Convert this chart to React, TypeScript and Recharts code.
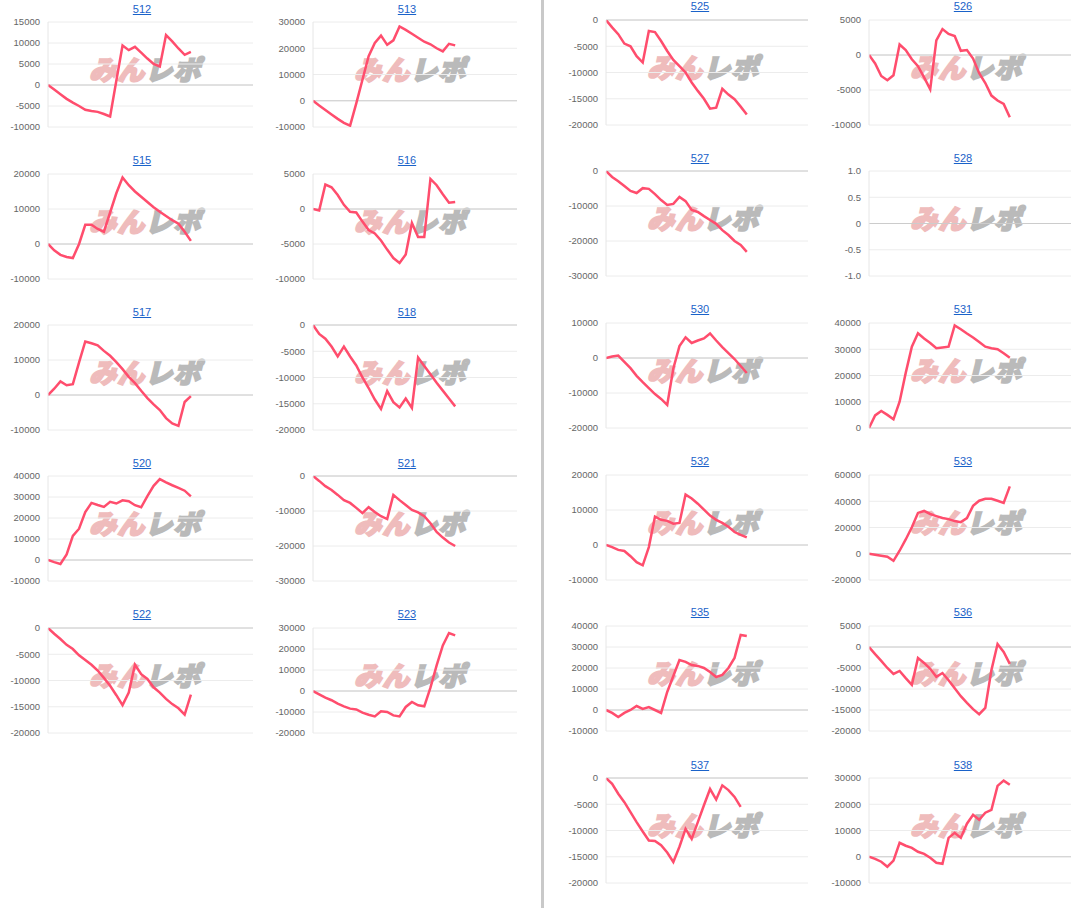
import { LineChart, Line, XAxis, YAxis, CartesianGrid, ReferenceLine } from 'recharts';

// daily balance per machine number (24 days shown on a 34-slot axis)
const X_MAX = 33;

const s512 = [0, -1100, -2200, -3300, -4200, -5000, -5900, -6200, -6400, -6900, -7500, 1000, 9400, 8300, 9100, 7700, 6300, 5000, 4400, 11900, 10400, 8700, 7200, 7900];
const s513 = [0, -1800, -3500, -5200, -6900, -8400, -9500, -1000, 8000, 17000, 22000, 24800, 21300, 23000, 28300, 27000, 25500, 24000, 22500, 21500, 20000, 18800, 21700, 21100];
const s515 = [0, -1800, -3100, -3700, -4000, 0, 5500, 5500, 4300, 3500, 9000, 14500, 19000, 16800, 15000, 13500, 12000, 10500, 9200, 8000, 6800, 5800, 3500, 900];
const s516 = [0, -200, 3500, 3100, 2000, 600, -400, -500, -1800, -3000, -3500, -4500, -5800, -7000, -7700, -6500, -2000, -4000, -4000, 4300, 3400, 2100, 900, 1000];
const s517 = [0, 1800, 3900, 2800, 3100, 9300, 15300, 14800, 14200, 12600, 11200, 9400, 7400, 5200, 3400, 1200, -900, -2700, -4300, -6600, -8100, -8800, -2000, -300];
const s518 = [0, -1700, -2600, -4100, -6000, -4100, -6000, -7700, -10000, -12000, -14200, -16000, -12600, -14700, -15700, -14000, -15800, -6200, -7800, -9400, -11000, -12500, -14000, -15500];
const s520 = [0, -1000, -1900, 2700, 11500, 14900, 22800, 27200, 26200, 25300, 27700, 26900, 28400, 28000, 26100, 25100, 30400, 35300, 38500, 37000, 35600, 34300, 33000, 30300];
const s521 = [0, -1400, -2900, -4000, -5400, -6900, -7700, -9100, -10600, -8900, -10300, -11500, -12300, -5400, -6900, -8300, -9700, -10400, -11500, -13500, -16000, -17600, -19000, -20000];
const s522 = [0, -1100, -2100, -3200, -4000, -5200, -6100, -7000, -8100, -9500, -11000, -12800, -14700, -12300, -7000, -8800, -9700, -11300, -12300, -13500, -14500, -15300, -16500, -12700];
const s523 = [0, -1600, -3200, -4400, -6000, -7300, -8400, -8800, -10300, -11300, -12100, -9700, -10000, -11600, -12100, -7600, -5200, -6800, -7300, 1600, 12200, 21700, 27600, 26500];
const s525 = [0, -1400, -2700, -4500, -5000, -6900, -8100, -2100, -2300, -4000, -5900, -7600, -8800, -10000, -11900, -13500, -15000, -16900, -16700, -13100, -14200, -15100, -16500, -18000];
const s526 = [0, -1200, -3000, -3600, -2900, 1500, 700, -600, -1600, -3200, -4900, 2100, 3700, 3000, 2700, 600, 700, -500, -2600, -4000, -5800, -6500, -7000, -8900];
const s527 = [0, -1700, -2900, -4300, -5700, -6300, -4900, -5100, -6600, -8300, -9700, -9400, -7400, -8600, -11100, -11700, -12900, -14000, -15100, -16900, -18300, -20000, -21100, -23100];
const s528: (number | null)[] = [null];
const s530 = [0, 400, 700, -1100, -2900, -5100, -6900, -8600, -10300, -11700, -13400, -3000, 3400, 5900, 4300, 5000, 5600, 7000, 5000, 3100, 1400, -300, -2300, -4300];
const s531 = [0, 4800, 6500, 5000, 3300, 10000, 21000, 31000, 36100, 34100, 32400, 30400, 30700, 31000, 39100, 37600, 36000, 34500, 32800, 31000, 30400, 30000, 28500, 26800];
const s532 = [0, -600, -1400, -1700, -3200, -4900, -5800, -600, 8100, 7200, 6900, 6100, 6300, 14400, 13300, 11800, 10100, 8400, 7200, 6300, 5200, 3700, 2900, 2200];
const s533 = [0, -800, -1600, -2300, -5400, 2300, 10900, 20200, 31100, 32600, 30300, 28700, 27200, 26400, 24900, 24100, 27200, 36500, 40400, 41900, 41900, 40400, 38800, 51300];
const s535 = [0, -1400, -3300, -1400, 0, 1900, 500, 1400, 0, -1400, 8600, 16200, 23800, 22900, 21400, 21000, 20000, 18100, 15700, 16700, 20000, 24800, 35700, 35200];
const s536 = [0, -1700, -3300, -5000, -6400, -5700, -7400, -9000, -2600, -3800, -5200, -7100, -6200, -7900, -9800, -11700, -13300, -14800, -16000, -14500, -5500, 700, -1200, -4000];
const s537 = [0, -1100, -3000, -4600, -6500, -8400, -10200, -11900, -12000, -12800, -14200, -16000, -13100, -9700, -11600, -8400, -5200, -2100, -4100, -1400, -2300, -3600, -5500];
const s538 = [0, -800, -1900, -3800, -1500, 5300, 4200, 3400, 1900, 1100, -400, -2300, -2700, 7200, 9100, 7200, 12600, 16000, 14100, 16800, 17900, 27000, 29000, 27400];

// y-axis tick labels
const T512 = [-10000, -5000, 0, 5000, 10000, 15000];
const T513 = [-10000, 0, 10000, 20000, 30000];
const T515 = [-10000, 0, 10000, 20000];
const T516 = [-10000, -5000, 0, 5000];
const T517 = [-10000, 0, 10000, 20000];
const T518 = [-20000, -15000, -10000, -5000, 0];
const T520 = [-10000, 0, 10000, 20000, 30000, 40000];
const T521 = [-30000, -20000, -10000, 0];
const T522 = [-20000, -15000, -10000, -5000, 0];
const T523 = [-20000, -10000, 0, 10000, 20000, 30000];
const T525 = [-20000, -15000, -10000, -5000, 0];
const T526 = [-10000, -5000, 0, 5000];
const T527 = [-30000, -20000, -10000, 0];
const T528 = [-1, -0.5, 0, 0.5, 1];
const T530 = [-20000, -10000, 0, 10000];
const T531 = [0, 10000, 20000, 30000, 40000];
const T532 = [-10000, 0, 10000, 20000];
const T533 = [-20000, 0, 20000, 40000, 60000];
const T535 = [-10000, 0, 10000, 20000, 30000, 40000];
const T536 = [-20000, -15000, -10000, -5000, 0, 5000];
const T537 = [-20000, -15000, -10000, -5000, 0];
const T538 = [-10000, 0, 10000, 20000, 30000];

const PANELS = [
  { id: '512', values: s512, ticks: T512, col: 0, row: 0 },
  { id: '515', values: s515, ticks: T515, col: 0, row: 1 },
  { id: '517', values: s517, ticks: T517, col: 0, row: 2 },
  { id: '520', values: s520, ticks: T520, col: 0, row: 3 },
  { id: '522', values: s522, ticks: T522, col: 0, row: 4 },
  { id: '513', values: s513, ticks: T513, col: 1, row: 0 },
  { id: '516', values: s516, ticks: T516, col: 1, row: 1 },
  { id: '518', values: s518, ticks: T518, col: 1, row: 2 },
  { id: '521', values: s521, ticks: T521, col: 1, row: 3 },
  { id: '523', values: s523, ticks: T523, col: 1, row: 4 },
  { id: '525', values: s525, ticks: T525, col: 2, row: 0 },
  { id: '527', values: s527, ticks: T527, col: 2, row: 1 },
  { id: '530', values: s530, ticks: T530, col: 2, row: 2 },
  { id: '532', values: s532, ticks: T532, col: 2, row: 3 },
  { id: '535', values: s535, ticks: T535, col: 2, row: 4 },
  { id: '537', values: s537, ticks: T537, col: 2, row: 5 },
  { id: '526', values: s526, ticks: T526, col: 3, row: 0 },
  { id: '528', values: s528, ticks: T528, col: 3, row: 1 },
  { id: '531', values: s531, ticks: T531, col: 3, row: 2 },
  { id: '533', values: s533, ticks: T533, col: 3, row: 3 },
  { id: '536', values: s536, ticks: T536, col: 3, row: 4 },
  { id: '538', values: s538, ticks: T538, col: 3, row: 5 },
];

const LEFT_TOPS = [22, 173.5, 325, 476, 627.5];
const RIGHT_TOPS = [19.5, 171, 322.5, 474.5, 625.5, 778];
const COLS = [
  { plotLeft: 48, plotWidth: 205, tops: LEFT_TOPS },
  { plotLeft: 313, plotWidth: 204, tops: LEFT_TOPS },
  { plotLeft: 606, plotWidth: 202, tops: RIGHT_TOPS },
  { plotLeft: 869, plotWidth: 202, tops: RIGHT_TOPS },
];

const PLOT_H = 105;
const AXIS_W = 50;
const LINE_COLOR = '#ff4d6d';
const FONT = '"Liberation Sans", Arial, sans-serif';

function MiniChart({ panel }: { panel: (typeof PANELS)[number] }) {
  const col = COLS[panel.col];
  const top = col.tops[panel.row];
  const ticks = panel.ticks;
  const decimal = ticks.some((t) => !Number.isInteger(t));
  const data = panel.values.map((v, i) => ({ x: i, v }));
  const fmtTick = (v: number) => (decimal && v !== 0 ? v.toFixed(1) : String(v));

  return (
    <>
      <div
        style={{
          position: 'absolute',
          left: col.plotLeft + 94 - 40,
          top: top - 13.5 - 7,
          width: 80,
          height: 14,
          lineHeight: '14px',
          textAlign: 'center',
          fontFamily: FONT,
          fontSize: 11,
        }}
      >
        <a href="#" style={{ color: '#1a62c9', textDecoration: 'underline' }}>
          {panel.id}
        </a>
      </div>
      <div
        style={{
          position: 'absolute',
          left: col.plotLeft + 44,
          top: top + 33,
          width: 132,
          height: 28,
          lineHeight: '28px',
          fontFamily: '"Noto Sans CJK JP", sans-serif',
          fontWeight: 900,
          fontSize: 27,
          letterSpacing: 1,
          transform: 'skewX(-14deg)',
          whiteSpace: 'nowrap',
        }}
      >
        <span style={{ color: '#efbcbc', WebkitTextStroke: '2px #efbcbc' }}>みん</span>
        <span style={{ color: '#bababa', WebkitTextStroke: '2px #bababa' }}>レポ</span>
      </div>
      <div style={{ position: 'absolute', left: col.plotLeft - AXIS_W, top: top - 5 }}>
        <LineChart
          width={AXIS_W + col.plotWidth + 5}
          height={PLOT_H + 25}
          data={data}
          margin={{ top: 5, right: 5, bottom: 20, left: 0 }}
        >
          <CartesianGrid horizontal vertical={false} stroke="#ececec" />
          <XAxis dataKey="x" type="number" domain={[0, X_MAX]} allowDataOverflow hide />
          <YAxis
            type="number"
            width={AXIS_W}
            domain={[ticks[0], ticks[ticks.length - 1]]}
            allowDataOverflow
            ticks={ticks}
            interval={0}
            tickLine={false}
            axisLine={{ stroke: '#e6e6e6' }}
            tick={{ fontSize: 9.5, fill: '#666', fontFamily: FONT }}
            tickFormatter={fmtTick}
          />
          <ReferenceLine y={0} stroke="#cccccc" />
          <Line
            type="linear"
            dataKey="v"
            stroke={LINE_COLOR}
            strokeWidth={2.5}
            dot={false}
            activeDot={false}
            isAnimationActive={false}
          />
        </LineChart>
      </div>
    </>
  );
}

export default function App() {
  return (
    <div style={{ position: 'absolute', left: 0, top: 0, width: 1079, height: 908, background: '#fff', overflow: 'hidden' }}>
      <div style={{ position: 'absolute', left: 541, top: 0, width: 3, height: 908, background: '#c9c9c9' }} />
      {PANELS.map((p) => (
        <MiniChart key={p.id} panel={p} />
      ))}
    </div>
  );
}
